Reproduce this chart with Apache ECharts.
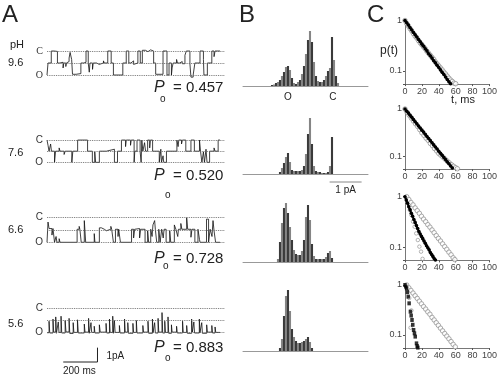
<!DOCTYPE html>
<html><head><meta charset="utf-8">
<script src="https://cdn.jsdelivr.net/npm/echarts@6/dist/echarts.min.js"></script>
<style>html,body{margin:0;padding:0;background:#fff}#c{width:500px;height:378px}</style>
</head><body><div id="c"></div>
<script>
// ---------- DATA ----------
const phLabels = ['9.6', '7.6', '6.6', '5.6'];
const poValues = ['0.457', '0.520', '0.728', '0.883'];
const levels = [0, -0.85, -1.7];          // C, sublevel, O  (pA)
const levelNames = ['C', '', 'O'];

// single-channel traces: [time ms, current pA] (step changes)
const trace96 = [[0,-1.7],[6,-0.85],[25,0],[42,0.05],[50,-0.03],[61,-0.85],[75,-0.95],[80,-0.8],[94,-1.2],[98,-0.85],[110,-1.1],[113,-0.85],[122,-0.75],[129,-0.5],[135,-0.1],[144,-0.6],[149,-1.65],[170,-1.6],[198,-0.85],[215,-0.8],[228,0],[241,-0.85],[247,-1.5],[251,-0.85],[266,-1.3],[270,-0.85],[290,-0.75],[300,-0.95],[305,-0.85],[330,-0.7],[334,-0.85],[355,0],[375,-0.85],[388,-1.7],[443,-0.85],[463,0],[478,-0.85],[490,-0.75],[500,-0.7],[506,-0.95],[512,-0.85],[531,0],[545,-0.85],[557,0.05],[575,-0.05],[590,0.08],[605,0],[623,-0.85],[635,-1.65],[678,0],[701,-1.7],[713,-0.85],[727,-1.7],[731,-1.2],[737,-0.85],[757,-0.6],[762,-0.85],[775,-0.75],[790,-0.9],[806,-0.3],[814,0],[835,-0.9],[841,-1.85],[854,-1.7],[864,-0.85],[894,0],[914,-0.6],[917,-1.7],[937,-0.85],[963,0],[976,-0.4],[982,0],[1011,0]];
const trace76 = [[0,0],[6,-0.4],[12,-0.85],[21,-0.3],[26,-0.85],[44,-1.7],[50,-0.85],[71,-0.6],[76,-0.85],[100,-1.1],[106,-0.85],[145,-1.7],[151,-0.85],[179,0],[237,-0.85],[265,-1.7],[279,-0.9],[284,-1.7],[306,-0.85],[347,-0.7],[394,-1.7],[412,-0.85],[435,0],[459,-0.5],[463,0],[488,-0.4],[492,0],[509,-1.7],[513,-0.85],[526,0],[544,-0.85],[550,-1.7],[554,0],[560,-0.85],[570,-0.2],[576,-0.85],[588,0],[600,-0.6],[604,0],[617,-0.85],[656,-1.7],[665,-0.7],[669,-1.7],[678,-1.2],[682,-1.7],[698,-0.85],[759,0],[766,-0.5],[770,0],[786,-0.3],[791,0],[811,-0.85],[841,0],[861,-0.85],[891,0],[897,-0.85],[905,-1.7],[914,-0.9],[920,-1.7],[929,-0.7],[935,-1.7],[950,-0.85],[976,-0.6],[982,-0.85],[1000,0],[1011,0]];
const trace66 = [[0,-1.7],[6,-0.3],[12,-0.75],[29,-1.2],[35,-0.75],[44,-1.7],[53,-1.3],[58,-1.7],[71,-1.45],[76,-1.7],[176,-0.8],[188,-0.6],[192,-0.8],[200,-1.7],[218,-0.2],[226,-1.7],[276,-1.1],[280,-1.7],[306,-0.7],[318,-0.8],[335,-0.9],[347,-0.8],[373,-0.6],[378,-0.8],[388,-1.7],[400,-0.8],[415,-1.3],[419,-0.8],[429,-1.7],[494,-0.8],[506,-1.4],[512,-0.8],[523,-0.75],[541,-1.4],[547,-0.8],[573,-1.7],[588,-0.9],[594,-1.7],[606,-0.8],[614,-1.3],[619,-0.5],[629,-0.2],[633,-0.8],[641,-1.7],[653,-0.8],[661,-1.7],[670,-0.8],[679,-1.4],[684,-0.8],[696,-1.7],[717,-0.9],[723,-1.7],[744,-0.5],[753,-0.8],[764,-1.3],[768,-0.8],[782,-0.4],[788,-0.8],[816,0],[822,-0.8],[841,-1.35],[847,-0.8],[864,-1.7],[882,-0.8],[891,-1.5],[894,-1.7],[932,-0.1],[944,-1.7],[953,-0.8],[964,-1.3],[970,-0.2],[976,-0.9],[985,-1.7],[1011,-1.7]];
const trace56 = [[0,-1.7],[12,-0.9],[16,-1.72],[35,-0.75],[39,-1.66],[51,-0.6],[55,-1.74],[66,-0.95],[70,-1.68],[82,-0.55],[86,-1.72],[106,-0.85],[111,-1.65],[129,-0.7],[133,-1.75],[153,-1.0],[157,-1.68],[178,-0.8],[183,-1.72],[218,-1.1],[222,-1.66],[243,-0.7],[247,-1.74],[257,-1.0],[261,-1.68],[276,-1.25],[280,-1.72],[306,-1.15],[311,-1.66],[345,-1.05],[349,-1.72],[365,-0.75],[369,-1.68],[384,-0.55],[388,-1.74],[394,-0.85],[398,-1.68],[423,-1.2],[427,-1.72],[453,-0.75],[457,-1.66],[472,-1.0],[476,-1.74],[502,-1.05],[506,-1.68],[522,-0.85],[526,-1.72],[560,-1.2],[564,-1.66],[590,-0.9],[594,-1.74],[616,-0.75],[620,-1.68],[629,-1.0],[633,-1.72],[649,-0.7],[653,-1.66],[672,-0.3],[676,-1.72],[688,-0.9],[692,-1.68],[707,-0.6],[711,-1.74],[727,-1.15],[731,-1.66],[757,-1.25],[761,-1.72],[792,-0.9],[796,-1.68],[816,-1.2],[820,-1.74],[845,-0.75],[849,-1.66],[858,-0.95],[862,-1.72],[890,-0.75],[894,-1.68],[904,-1.0],[908,-1.74],[933,-1.15],[937,-1.66],[963,-1.2],[967,-1.72],[982,-1.3],[986,-1.68],[1011,-1.7]];

// amplitude histograms: bin centres (pA, 0 = open level) and counts
const ampBins = [-0.5,-0.4375,-0.375,-0.3125,-0.25,-0.1875,-0.125,-0.0625,0,0.0625,0.125,0.1875,0.25,0.3125,0.375,0.4375,0.5,0.5625,0.625,0.6875,0.75,0.8125,0.875,0.9375,1,1.0625,1.125,1.1875,1.25,1.3125,1.375,1.4375,1.5,1.5625];
const hist96 = [1,1.5,3,4,6,10,14,19,20,16,8,3,2,4,6,12,20,32,46,55,44,24,10,5,4,4,6,10,15,18,49,26,10,3];
const hist76 = [0,0,0,0,2,6,11,17,21,12,4,3,3,3,3,4,8,20,40,56,30,8,3,2,2,1,1,1,2,8,37,0,0,0];
const hist66 = [0,0,0,3,20,39,54,59,49,35,22,12,8,7,7,11,22,45,57,42,18,6,3,3,3,3,3,5,9,11,4,0,0,0];
const hist56 = [0,0,0,0,3,12,35,55,61,40,22,14,10,8,8,9,10,12,14,9,3,0,0,0,0,0,0,0,0,0,0,0,0,0];

// survival plots p(t): [t ms, p]
const surv96Gray = [[0,1],[2,0.87],[4,0.78],[6,0.69],[8,0.62],[10,0.55],[12,0.49],[14,0.45],[16,0.40],[18,0.36],[20,0.33],[22,0.30],[24,0.275],[26,0.245],[28,0.224],[30,0.204],[32,0.186],[34,0.17],[36,0.151],[38,0.138],[40,0.126],[42,0.115],[44,0.105],[46,0.095],[48,0.087],[50,0.079],[52,0.072],[54,0.066],[56,0.062],[58,0.0575],[60,0.056]];
const surv96Black = [[0,1],[2,0.9],[4,0.81],[6,0.72],[8,0.65],[10,0.58],[12,0.52],[14,0.47],[16,0.42],[18,0.38],[20,0.34],[22,0.31],[24,0.275],[26,0.25],[28,0.22],[30,0.2],[32,0.18],[34,0.16],[36,0.145],[38,0.13],[40,0.117],[42,0.105],[44,0.094],[46,0.085],[48,0.076],[50,0.068],[52,0.061],[54,0.056]];
const surv76Gray = [[0,1],[2.5,0.85],[5,0.74],[7.5,0.645],[10,0.56],[12.5,0.49],[15,0.43],[17.5,0.37],[20,0.316],[22.5,0.28],[25,0.245],[27.5,0.22],[30,0.19],[32.5,0.17],[35,0.148],[37.5,0.132],[40,0.117],[42.5,0.107],[45,0.098],[47.5,0.089],[50,0.081],[52.5,0.074],[55,0.068],[57.5,0.063],[60,0.059],[62,0.056]];
const surv76Black = [[0,1],[2,0.9],[4,0.82],[6,0.74],[8,0.67],[10,0.6],[12,0.54],[14,0.49],[16,0.44],[18,0.4],[20,0.36],[22,0.33],[24,0.295],[26,0.266],[28,0.24],[30,0.217],[32,0.196],[34,0.177],[36,0.16],[38,0.145],[40,0.13],[42,0.118],[44,0.107],[46,0.096],[48,0.087],[50,0.078],[52,0.071],[54,0.064],[56,0.058]];
const surv66Gray = [[2,1],[4.5,0.88],[7,0.77],[9.5,0.69],[12,0.6],[14.5,0.53],[17,0.47],[19.5,0.41],[22,0.36],[24.5,0.32],[27,0.28],[29.5,0.25],[32,0.22],[34.5,0.194],[37,0.17],[39.5,0.15],[42,0.133],[44.5,0.117],[47,0.103],[49.5,0.091],[52,0.08],[54.5,0.071],[57,0.062],[59,0.057]];
const surv66Black = [[0,1],[1.5,0.86],[3,0.74],[4.5,0.63],[6,0.55],[7.5,0.47],[9,0.41],[10.5,0.355],[12,0.31],[13.5,0.27],[15,0.234],[16.5,0.204],[18,0.182],[19.5,0.164],[21,0.148],[22.5,0.133],[24,0.12],[25.5,0.107],[27,0.098],[28.5,0.089],[30,0.079],[31.5,0.072],[33,0.066],[34.5,0.06],[36,0.056]];
const surv66Extra = [[5.7,0.546],[7.6,0.435],[9.5,0.321],[11.4,0.255],[13.3,0.188],[15.2,0.139],[17,0.103],[19,0.082],[20.8,0.059]];
const surv56Gray = [[2,1],[4.5,0.88],[7,0.78],[9.5,0.69],[12,0.61],[14.5,0.54],[17,0.475],[19.5,0.42],[22,0.37],[24.5,0.33],[27,0.29],[29.5,0.26],[32,0.225],[34.5,0.2],[37,0.176],[39.5,0.156],[42,0.137],[44.5,0.121],[47,0.107],[49.5,0.095],[52,0.084],[54.5,0.074],[57,0.065],[59.5,0.058]];
const surv56Black = [[0,1],[0.9,0.93],[1.9,0.857],[2.8,0.72],[3.8,0.585],[4.9,0.43],[6.4,0.293],[7.3,0.245],[8.3,0.2],[9.2,0.16],[10.2,0.126],[11.2,0.108],[12.1,0.093],[13.6,0.068],[14.4,0.06],[15.2,0.056]];
const surv56Extra = [[5,0.55],[7.6,0.31],[6.6,0.14]];
const survTicks = [0, 20, 40, 60, 80, 100];

// ---------- LAYOUT ----------
const FONT = '"Liberation Sans", Arial, sans-serif';
const traces = [trace96, trace76, trace66, trace56];
const hists = [hist96, hist76, hist66, hist56];
const survGray = [surv96Gray, surv76Gray, surv66Gray, surv56Gray];
const survBlack = [surv96Black, surv76Black, surv66Black, surv56Black];
const survExtra = [null, null, surv66Extra, surv56Extra];
const traceGrids = [{top:39,height:48},{top:128.9,height:44.6},{top:205.4,height:49.2},{top:296.1,height:48.8}];
const histTops = [24, 112, 200, 289];
const survGrids = [{top:20.5,height:63.6},{top:109,height:60.1},{top:196.7,height:63.7},{top:285,height:63}];

const grid = [], xAxis = [], yAxis = [], series = [];
// traces
traceGrids.forEach((g, i) => {
  grid.push({left:47, width:178, top:g.top, height:g.height});
  xAxis.push({gridIndex:grid.length-1, type:'value', min:0, max:1040, show:false});
  yAxis.push({gridIndex:grid.length-1, type:'value', min:-2.55, max:0.85, interval:0.85,
    axisLine:{show:false}, axisTick:{show:false}, splitLine:{show:false},
    axisLabel:{margin:4, fontSize:10, color:'#333', fontFamily: i===0 ? '"Liberation Serif", serif' : FONT,
      formatter: v => { for (let k=0;k<levels.length;k++) if (Math.abs(v-levels[k])<0.01) return levelNames[k]; return ''; }}});
  series.push({type:'line', xAxisIndex:grid.length-1, yAxisIndex:grid.length-1, step:'end',
    data:traces[i], showSymbol:false, symbol:'none', lineStyle:{width:0.8, color:'#111'}, silent:true,
    markLine:{silent:true, symbol:['none','none'], label:{show:false},
      lineStyle:{type:'dotted', color:'#666', width:0.9}, data: levels.map(v => ({yAxis:v}))}});
});
// histograms
histTops.forEach((t, i) => {
  grid.push({left:243, width:125, top:t, height:62});
  xAxis.push({gridIndex:grid.length-1, type:'value', min:-1.406, max:2.5,
    axisLine:{show:true, lineStyle:{color:'#999', width:1}}, axisTick:{show:false}, axisLabel:{show:false}, splitLine:{show:false}});
  yAxis.push({gridIndex:grid.length-1, type:'value', min:0, max:62, show:false, splitLine:{show:false}});
  series.push({type:'bar', xAxisIndex:grid.length-1, yAxisIndex:grid.length-1, barWidth:2.1, silent:true,
    data: ampBins.map((a, k) => [a, hists[i][k]]),
    itemStyle:{color: p => (p.dataIndex % 2 ? '#858585' : '#3a3a3a')}});
});
// survival plots
survGrids.forEach((g, i) => {
  grid.push({left:405, width:88, top:g.top, height:g.height});
  const gi = grid.length-1;
  xAxis.push({gridIndex:gi, type:'value', min:survTicks[0], max:survTicks[survTicks.length-1], interval:20,
    axisLine:{lineStyle:{color:'#555', width:0.8}}, axisTick:{show:true, length:2, lineStyle:{color:'#555'}},
    axisLabel:{fontSize:9, color:'#444', margin:3, fontFamily:FONT}, splitLine:{show:false}});
  yAxis.push({gridIndex:gi, type:'log', logBase:10, min:0.055, max:1,
    axisLine:{show:true, lineStyle:{color:'#555', width:0.8}}, axisTick:{show:true, length:2, lineStyle:{color:'#555'}},
    axisLabel:{fontSize:9, color:'#444', margin:3, fontFamily:FONT,
      formatter: v => Math.abs(v-1)<1e-6 ? '1' : (Math.abs(v-0.1)<1e-6 ? '0.1' : '')},
    splitLine:{show:false}});
  series.push({type:'scatter', xAxisIndex:gi, yAxisIndex:gi, data:survGray[i], symbol:'circle', symbolSize:4.5, silent:true,
    itemStyle:{color:'#fff', borderColor:'#8a8a8a', borderWidth:0.9}});
  if (survExtra[i]) series.push({type:'scatter', xAxisIndex:gi, yAxisIndex:gi, data:survExtra[i], symbol:'circle', symbolSize:3.5, silent:true,
    itemStyle:{color:'#fff', borderColor:'#8a8a8a', borderWidth:0.8}});
  if (i < 3) {
    series.push({type:'line', xAxisIndex:gi, yAxisIndex:gi, data:survBlack[i], symbol:'circle', symbolSize:3.6, showAllSymbol:true, silent:true,
      lineStyle:{width:2, color:'#000'}, itemStyle:{color:'#000'}});
  } else {
    series.push({type:'scatter', xAxisIndex:gi, yAxisIndex:gi, data:survBlack[i], symbol:'rect', symbolSize:[3.5,4], silent:true,
      itemStyle:{color:'#000'}});
  }
});

const chart = echarts.init(document.getElementById('c'), null, {renderer:'canvas'});
chart.setOption({animation:false, backgroundColor:'#fff', grid, xAxis, yAxis, series});

// ---------- TEXT & SCALE BARS ----------
function txt(x, y, s, font, align) {
  return {type:'text', silent:true, style:{x:x, y:y, text:s, font:font, fill:'#222', align:align||'left', verticalAlign:'middle'}};
}
const g = [];
g.push(txt(2, 15, 'A', '24px ' + FONT));
g.push(txt(239, 15, 'B', '24px ' + FONT));
g.push(txt(367, 15, 'C', '24px ' + FONT));
g.push(txt(10, 45, 'pH', '11px ' + FONT));
const phY = [63, 153, 230, 324];
phLabels.forEach((s, i) => g.push(txt(8, phY[i], s, '11px ' + FONT)));
const poY = [88, 175.5, 258.5, 348];
const oY = [99, 195, 266, 358.5];
const oX = [160, 165, 163, 165];
poValues.forEach((s, i) => {
  g.push(txt(154, poY[i], 'P', 'italic 16px ' + FONT));
  g.push(txt(oX[i], oY[i], 'o', '10px ' + FONT));
  g.push(txt(173, poY[i], '= ' + s, '15px ' + FONT));
});
// time / current scale bar from trace axes (pH 5.6 grid)
const a0 = chart.convertToPixel({gridIndex:3}, [95, 0]);
const a1 = chart.convertToPixel({gridIndex:3}, [295, 0]);
const pa = chart.convertToPixel({gridIndex:3}, [0, 0])[1] - chart.convertToPixel({gridIndex:3}, [0, 1])[1];
const sbY = 362;
g.push({type:'line', silent:true, shape:{x1:a0[0], y1:sbY, x2:a1[0], y2:sbY}, style:{stroke:'#222', lineWidth:1}});
g.push({type:'line', silent:true, shape:{x1:a1[0], y1:sbY, x2:a1[0], y2:sbY - pa}, style:{stroke:'#222', lineWidth:1}});
g.push(txt(a1[0] + 9, 356, '1pA', '10px ' + FONT));
g.push(txt((a0[0] + a1[0]) / 2 - 1, 371, '200 ms', '10px ' + FONT, 'center'));
// histogram labels
const hO = chart.convertToPixel({gridIndex:4}, [0, 0]);
const hC = chart.convertToPixel({gridIndex:4}, [1.4, 0]);
g.push(txt(hO[0], 97, 'O', '10px ' + FONT, 'center'));
g.push(txt(hC[0], 97, 'C', '10px ' + FONT, 'center'));
const b0 = chart.convertToPixel({gridIndex:5}, [1.3, 0]);
const b1 = chart.convertToPixel({gridIndex:5}, [2.3, 0]);
g.push({type:'line', silent:true, shape:{x1:b0[0], y1:182, x2:b1[0], y2:182}, style:{stroke:'#888', lineWidth:1}});
g.push(txt((b0[0] + b1[0]) / 2, 190, '1 pA', '10px ' + FONT, 'center'));
// survival plot labels
g.push(txt(389, 51, 'p(t)', '12px ' + FONT, 'center'));
g.push(txt(463, 100, 't, ms', '11px ' + FONT, 'center'));
chart.setOption({graphic: g});
</script></body></html>
